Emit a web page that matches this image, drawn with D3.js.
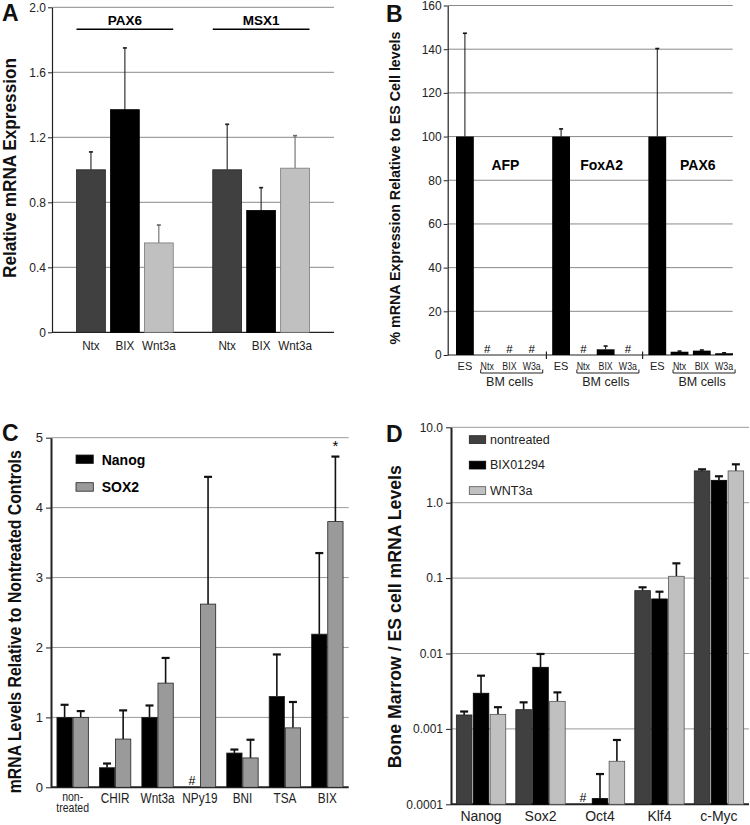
<!DOCTYPE html>
<html>
<head>
<meta charset="utf-8">
<title>Four panel expression figure</title>
<script src="https://cdn.jsdelivr.net/npm/d3@7/dist/d3.min.js"></script>
<style>
  body { margin: 0; background: #fff; }
  svg { display: block; font-family: "Liberation Sans", Arial, sans-serif; }
  .grid line { stroke: #8f8f8f; stroke-width: 1; }
  .axis path, .axis line { stroke: #222; }
  .axis text { fill: #222; }
  .ylab { font-weight: bold; fill: #111; }
  .letter { font-weight: bold; font-size: 23px; fill: #111; }
</style>
</head>
<body>
<svg id="fig" width="750" height="825"></svg>
<script>
// ---- panel A data
var aGenes = ["PAX6", "MSX1"];
var aTreat = ["Ntx", "BIX", "Wnt3a"];
var aMean = [[1.00, 1.37, 0.55], [1.00, 0.75, 1.01]];
var aErr = [[1.11, 1.75, 0.66], [1.28, 0.89, 1.21]];
var aTicks = [0, 0.4, 0.8, 1.2, 1.6, 2.0];
var aTickLabels = ["0", "0.4", "0.8", "1.2", "1.6", "2.0"];

// ---- panel B data (null = not detected, shown as #)
var bGenes = ["AFP", "FoxA2", "PAX6"];
var bSamples = ["ES", "Ntx", "BIX", "W3a"];
var bMean = [[100, null, null, null], [100, null, 2.6, null], [100, 1.5, 2.0, 0.8]];
var bErr = [[147.3, null, null, null], [103.5, null, 4.1, null], [140.3, 1.8, 2.3, 1.0]];
var bTicks = [0, 20, 40, 60, 80, 100, 120, 140, 160];

// ---- panel C data
var cCats = ["non-treated", "CHIR", "Wnt3a", "NPy19", "BNI", "TSA", "BIX"];
var cCatLabels = [["non-", "treated"], ["CHIR"], ["Wnt3a"], ["NPy19"], ["BNI"], ["TSA"], ["BIX"]];
var cSeries = ["Nanog", "SOX2"];
var cNanog = [1.00, 0.28, 1.00, null, 0.49, 1.30, 2.19];
var cNanogErr = [1.18, 0.34, 1.17, null, 0.54, 1.90, 3.35];
var cSox2 = [1.00, 0.69, 1.49, 2.62, 0.42, 0.85, 3.80];
var cSox2Err = [1.09, 1.10, 1.85, 4.44, 0.68, 1.22, 4.73];
var cTicks = [0, 1, 2, 3, 4, 5];

// ---- panel D data (log scale)
var dGenes = ["Nanog", "Sox2", "Oct4", "Klf4", "c-Myc"];
var dSeries = ["nontreated", "BIX01294", "WNT3a"];
var dNontreated = [0.00153, 0.0018, null, 0.0682, 2.64];
var dNontreatedErr = [0.0017, 0.00225, null, 0.0755, 2.77];
var dBix = [0.00297, 0.00656, 0.000119, 0.0529, 1.98];
var dBixErr = [0.00508, 0.00986, 0.000252, 0.066, 2.24];
var dWnt = [0.00156, 0.00232, 0.000372, 0.1057, 2.64];
var dWntErr = [0.00194, 0.00305, 0.000713, 0.157, 3.23];
var dTicks = [0.0001, 0.001, 0.01, 0.1, 1, 10];
var dTickLabels = ["0.0001", "0.001", "0.01", "0.1", "1.0", "10.0"];

var svg = d3.select("#fig");

// squeeze a text horizontally (no narrow font installed)
function condense(sel, k) {
  sel.each(function () {
    var w = this.getComputedTextLength();
    d3.select(this).attr("textLength", w * k).attr("lengthAdjust", "spacingAndGlyphs");
  });
}

// gridlines + left axis
function yAxis(x0, x1, y, ticks, labels, size, pad, fs, gridColor, axisW) {
  var g = svg.append("g");
  g.append("g").attr("class", "grid")
    .selectAll("line").data(ticks.slice(1)).enter().append("line")
    .attr("x1", x0).attr("x2", x1)
    .attr("y1", d => y(d)).attr("y2", d => y(d))
    .style("stroke", gridColor);
  var ax = d3.axisLeft(y).tickValues(ticks).tickSizeInner(size).tickSizeOuter(0).tickPadding(pad)
    .tickFormat((d, i) => labels ? labels[i] : d);
  g.append("g").attr("class", "axis")
    .attr("transform", "translate(" + x0 + ",0)")
    .call(ax)
    .call(s => s.selectAll("text").style("font-size", fs + "px").style("font-family", "Liberation Sans, Arial, sans-serif"))
    .call(s => s.select(".domain").style("stroke-width", axisW));
  // baseline
  g.append("line").attr("x1", x0).attr("x2", x1)
    .attr("y1", y(ticks[0])).attr("y2", y(ticks[0]))
    .style("stroke", "#222").style("stroke-width", axisW);
}

function errBar(x, yTop, yBot, cap, color, w) {
  svg.append("line").attr("x1", x).attr("x2", x).attr("y1", yBot).attr("y2", yTop)
    .style("stroke", color).style("stroke-width", w);
  svg.append("line").attr("x1", x - cap / 2).attr("x2", x + cap / 2).attr("y1", yTop).attr("y2", yTop)
    .style("stroke", color).style("stroke-width", w + 0.6);
}

function yLabel(text, x, cy, len, fs) {
  svg.append("text").attr("class", "ylab")
    .attr("transform", "translate(" + x + "," + cy + ") rotate(-90)")
    .attr("text-anchor", "middle")
    .attr("textLength", len).attr("lengthAdjust", "spacingAndGlyphs")
    .style("font-size", fs + "px")
    .text(text);
}

// ================= A =================
var yA = d3.scaleLinear().domain([0, 2]).range([332.3, 7.3]);
var xA = d3.scaleBand().domain(aGenes).range([52, 334]).paddingInner(0.29).paddingOuter(0.18);
var xAi = d3.scaleBand().domain(aTreat).range([0, xA.bandwidth()]).paddingInner(0.15);
var aFill = { "Ntx": "#404040", "BIX": "#000", "Wnt3a": "#c0c0c0" };
var aStroke = { "Ntx": "#222", "BIX": "#000", "Wnt3a": "#7a7a7a" };

yAxis(52, 334, yA, aTicks, aTickLabels, 4, 2, 12, "#8a8a8a", 1.2);

var aRows = [];
aGenes.forEach((g, gi) => aTreat.forEach((t, ti) => aRows.push({ g: g, t: t, v: aMean[gi][ti], e: aErr[gi][ti] })));

aRows.forEach(d => {
  var cx = xA(d.g) + xAi(d.t) + xAi.bandwidth() / 2;
  errBar(cx, yA(d.e), yA(d.v), 4, d.t === "Wnt3a" ? "#6a6a6a" : "#222", 1.1);
});
svg.append("g").selectAll("rect").data(aRows).enter().append("rect")
  .attr("x", d => xA(d.g) + xAi(d.t))
  .attr("y", d => yA(d.v))
  .attr("width", xAi.bandwidth())
  .attr("height", d => yA(0) - yA(d.v))
  .attr("fill", d => aFill[d.t])
  .attr("stroke", d => aStroke[d.t]).attr("stroke-width", 0.8);

aGenes.forEach(g => {
  svg.append("line").attr("x1", xA(g)).attr("x2", xA(g) + xA.bandwidth())
    .attr("y1", 29.3).attr("y2", 29.3).style("stroke", "#000").style("stroke-width", 1.5);
  svg.append("text").attr("x", xA(g) + xA.bandwidth() / 2).attr("y", 25)
    .attr("text-anchor", "middle").style("font-weight", "bold").style("font-size", "13.5px").text(g);
});
svg.append("g").selectAll("text").data(aRows).enter().append("text")
  .attr("x", d => xA(d.g) + xAi(d.t) + xAi.bandwidth() / 2)
  .attr("y", 349.5).attr("text-anchor", "middle")
  .style("font-size", "13px").attr("fill", "#222")
  .text(d => d.t)
  .call(condense, 0.9);

yLabel("Relative mRNA Expression", 16, 168, 220, 18);
svg.append("text").attr("class", "letter").attr("x", 2).attr("y", 21).text("A");

// ================= B =================
var yB = d3.scaleLinear().domain([0, 160]).range([355, 5.5]);
var xB = d3.scaleBand().domain(bGenes).range([456, 733]).paddingInner(0.12);
var xBi = d3.scaleBand().domain(bSamples).range([0, xB.bandwidth()]).paddingInner(0.2);

yAxis(447.7, 732.7, yB, bTicks, null, 4, 2, 12, "#8a8a8a", 1.2);

var bRows = [];
bGenes.forEach((g, gi) => bSamples.forEach((s, si) => bRows.push({ g: g, s: s, v: bMean[gi][si], e: bErr[gi][si] })));
var bCx = d => xB(d.g) + xBi(d.s) + xBi.bandwidth() / 2;

bRows.filter(d => d.v !== null).forEach(d => errBar(bCx(d), yB(d.e), yB(d.v), 4, "#111", 1));
svg.append("g").selectAll("rect").data(bRows.filter(d => d.v !== null)).enter().append("rect")
  .attr("x", d => xB(d.g) + xBi(d.s))
  .attr("y", d => yB(d.v))
  .attr("width", xBi.bandwidth())
  .attr("height", d => yB(0) - yB(d.v))
  .attr("fill", "#000");
svg.append("g").selectAll("text").data(bRows.filter(d => d.v === null)).enter().append("text")
  .attr("x", bCx).attr("y", 353).attr("text-anchor", "middle")
  .style("font-size", "11.5px").text("#");

// separators between groups
bGenes.slice(1).forEach((g, i) => {
  var prev = bGenes[i];
  var sx = (xB(prev) + xB.bandwidth() + xB(g)) / 2;
  svg.append("line").attr("x1", sx).attr("x2", sx).attr("y1", 351.5).attr("y2", 359)
    .style("stroke", "#222").style("stroke-width", 1.2);
});

bRows.forEach(d => {
  var es = d.s === "ES";
  svg.append("text")
    .attr("x", bCx(d)).attr("y", 370).attr("text-anchor", "middle")
    .style("font-size", es ? "11px" : "10px").attr("fill", "#222").text(d.s)
    .call(condense, es ? 1 : 0.88);
});
bGenes.forEach(g => {
  var xl = xB(g) + xBi("Ntx") + xBi.bandwidth() / 2 - 6.5;
  var xr = xB(g) + xBi("W3a") + xBi.bandwidth() / 2 + 11;
  svg.append("path")
    .attr("d", "M" + xl + ",369.5 V373 H" + xr + " V369.5")
    .attr("fill", "none").style("stroke", "#222").style("stroke-width", 1);
  svg.append("text").attr("x", (xl + xr) / 2 - 2).attr("y", 385.5).attr("text-anchor", "middle")
    .style("font-size", "12.5px").attr("fill", "#222").text("BM cells");
  svg.append("text").attr("x", xB(g) + xBi("BIX") + xBi.bandwidth() / 2 - 4).attr("y", 170)
    .attr("text-anchor", "middle").style("font-weight", "bold").style("font-size", "14px").text(g);
});

yLabel("% mRNA Expression Relative to ES Cell levels", 399.5, 188, 313, 15.5);
svg.append("text").attr("class", "letter").attr("x", 386).attr("y", 21.5).text("B");

// ================= C =================
var yC = d3.scaleLinear().domain([0, 5]).range([787.3, 437.7]);
var xC = d3.scaleBand().domain(cCats).range([51, 349]).paddingInner(0.26).paddingOuter(0.14);
var xCi = d3.scaleBand().domain(cSeries).range([0, xC.bandwidth()]).paddingInner(0.05);
var cFill = { "Nanog": "#000", "SOX2": "#9a9a9a" };

yAxis(51, 348.7, yC, cTicks, null, 5, 3, 13, "#9a9a9a", 2);

var cRows = [];
cCats.forEach((c, i) => {
  cRows.push({ c: c, s: "Nanog", v: cNanog[i], e: cNanogErr[i] });
  cRows.push({ c: c, s: "SOX2", v: cSox2[i], e: cSox2Err[i] });
});
var cCx = d => xC(d.c) + xCi(d.s) + xCi.bandwidth() / 2;

cRows.filter(d => d.v !== null).forEach(d => errBar(cCx(d), yC(d.e), yC(d.v), 8, "#111", 1.6));
svg.append("g").selectAll("rect").data(cRows.filter(d => d.v !== null)).enter().append("rect")
  .attr("x", d => xC(d.c) + xCi(d.s))
  .attr("y", d => yC(d.v))
  .attr("width", xCi.bandwidth())
  .attr("height", d => yC(0) - yC(d.v))
  .attr("fill", d => cFill[d.s])
  .attr("stroke", "#222").attr("stroke-width", 0.8);
svg.append("g").selectAll("text").data(cRows.filter(d => d.v === null)).enter().append("text")
  .attr("x", cCx).attr("y", 785).attr("text-anchor", "middle")
  .style("font-size", "12.5px").text("#");
// significance star on BIX SOX2
var star = cRows.find(d => d.c === "BIX" && d.s === "SOX2");
svg.append("text").attr("x", cCx(star)).attr("y", yC(star.e) - 6).attr("text-anchor", "middle")
  .style("font-size", "15px").text("*");

// category labels, two-line ones as tspans of one text
cCats.forEach((c, i) => {
  var lines = cCatLabels[i];
  var cx = xC(c) + xC.bandwidth() / 2;
  var t = svg.append("text").attr("text-anchor", "middle").attr("fill", "#222")
    .style("font-size", lines.length > 1 ? "12.5px" : "14px");
  lines.forEach((s, j) => {
    t.append("tspan").attr("x", cx)
      .attr("y", (lines.length > 1 ? 800.5 : 803.3) + j * 11.5)
      .text(s).call(condense, 0.84);
  });
});

cSeries.forEach((s, i) => {
  svg.append("rect").attr("x", 76).attr("y", 455 + i * 27.7).attr("width", 17.3).attr("height", 8.5)
    .attr("fill", cFill[s]).attr("stroke", "#222").attr("stroke-width", 0.8);
  svg.append("text").attr("x", 101.7).attr("y", 464.5 + i * 27.7)
    .style("font-weight", "bold").style("font-size", "14px").text(s);
});

yLabel("mRNA Levels Relative to Nontreated Controls", 21, 621.7, 343, 18);
svg.append("text").attr("class", "letter").attr("x", 2).attr("y", 441).text("C");

// ================= D =================
var yD = d3.scaleLog().domain([0.0001, 10]).range([804.3, 427.3]);
var xD = d3.scaleBand().domain(dGenes).range([451, 749]).paddingInner(0.17).paddingOuter(0.09);
var xDi = d3.scaleBand().domain(dSeries).range([0, xD.bandwidth()]).paddingInner(0.08);
var dFill = { "nontreated": "#404040", "BIX01294": "#000", "WNT3a": "#c0c0c0" };
var dStroke = { "nontreated": "#222", "BIX01294": "#000", "WNT3a": "#555" };

yAxis(451, 749, yD, dTicks, dTickLabels, 5, 3, 12, "#9a9a9a", 2);

var dVals = [dNontreated, dBix, dWnt], dErrs = [dNontreatedErr, dBixErr, dWntErr];
var dRows = [];
dGenes.forEach((g, gi) => dSeries.forEach((s, si) => dRows.push({ g: g, s: s, v: dVals[si][gi], e: dErrs[si][gi] })));
var dCx = d => xD(d.g) + xDi(d.s) + xDi.bandwidth() / 2;

dRows.filter(d => d.v !== null).forEach(d => errBar(dCx(d), yD(d.e), yD(d.v), 8, "#111", 1.6));
svg.append("g").selectAll("rect").data(dRows.filter(d => d.v !== null)).enter().append("rect")
  .attr("x", d => xD(d.g) + xDi(d.s))
  .attr("y", d => yD(d.v))
  .attr("width", xDi.bandwidth())
  .attr("height", d => yD(0.0001) - yD(d.v))
  .attr("fill", d => dFill[d.s])
  .attr("stroke", d => dStroke[d.s]).attr("stroke-width", 0.8);
svg.append("g").selectAll("text").data(dRows.filter(d => d.v === null)).enter().append("text")
  .attr("x", dCx).attr("y", 801.5).attr("text-anchor", "middle")
  .style("font-size", "12.5px").text("#");

svg.append("g").selectAll("text").data(dGenes).enter().append("text")
  .attr("x", d => xD(d) + xD.bandwidth() / 2).attr("y", 820.7).attr("text-anchor", "middle")
  .style("font-size", "14px").attr("fill", "#222").text(d => d);

dSeries.forEach((s, i) => {
  svg.append("rect").attr("x", 469.3).attr("y", 435.7 + i * 25.5).attr("width", 16.4).attr("height", 7.8)
    .attr("fill", dFill[s]).attr("stroke", dStroke[s]).attr("stroke-width", 0.8);
  svg.append("text").attr("x", 490).attr("y", 443.8 + i * 25.5)
    .style("font-size", "12.5px").attr("fill", "#222").text(s);
});

yLabel("Bone Marrow / ES cell mRNA Levels", 400.5, 616.7, 303, 18.5);
svg.append("text").attr("class", "letter").attr("x", 386).attr("y", 441.7).text("D");
</script>
</body>
</html>
